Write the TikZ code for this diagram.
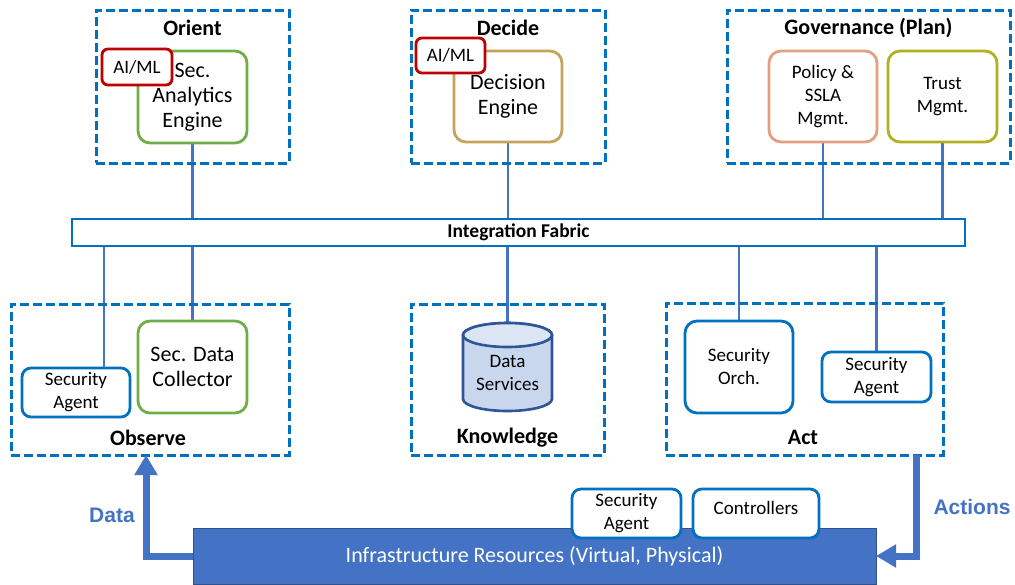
\documentclass[tikz,border=0pt]{standalone}
\usepackage{fontspec}
\setmainfont{Carlito}
\newfontfamily\arialfont{Liberation Sans}
\usetikzlibrary{arrows.meta,backgrounds}

\definecolor{dashblue}{RGB}{0,112,192}
\definecolor{linkblue}{RGB}{68,114,196}
\definecolor{okgreen}{RGB}{112,173,71}
\definecolor{engtan}{RGB}{196,164,92}
\definecolor{salmonline}{RGB}{226,160,126}
\definecolor{oliveline}{RGB}{178,176,30}
\definecolor{aired}{RGB}{192,0,0}
\definecolor{cylfill}{RGB}{201,215,238}
\definecolor{cyltop}{RGB}{220,229,244}
\definecolor{cylline}{RGB}{47,85,151}
\definecolor{infraline}{RGB}{47,82,143}

\newcommand\fsbig{\fontsize{22}{25}\selectfont}
\newcommand\fssmall{\fontsize{19}{23}\selectfont}
\newcommand\fsfab{\fontsize{19.5}{22}\selectfont}

\begin{document}
\begin{tikzpicture}[x=1pt,y=-1pt,
  group/.style={draw=dashblue, line width=3pt, dash pattern=on 9pt off 4pt,
    inner sep=0pt, outer sep=0pt},
  title/.style={font=\fsbig\bfseries, inner sep=0pt},
  box/.style={rounded corners=12pt, line width=2.8pt, fill=white, align=center,
    inner sep=0pt, outer sep=0pt, font=\fsbig},
  smallbox/.style={box, draw=dashblue, rounded corners=9pt, font=\fssmall},
  aibox/.style={draw=aired, rounded corners=6pt, line width=2.8pt, fill=white,
    inner sep=0pt, outer sep=0pt, font=\fssmall},
  link/.style={draw=linkblue, line width=2.5pt},
  bigarrow/.style={draw=linkblue, line width=7pt,
    -{Triangle[width=22pt,length=20pt]}},
  arrowlabel/.style={font=\arialfont\bfseries\fontsize{21}{25}\selectfont,
    text=linkblue, inner sep=0pt}
]
\useasboundingbox (0,0) rectangle (1015,584);

% ---------- Orient ----------
\node[group, minimum width=193pt, minimum height=153pt] (orient) at (192.5,86.5) {};
\node[title] (orientT) at (192.5,28) {Orient};
\node[box, draw=okgreen, minimum width=109pt, minimum height=92pt] (sae) at (192.5,97) {Sec.\\Analytics\\Engine};
\node[aibox, minimum width=70pt, minimum height=36pt] (ai1) at (137,67) {AI/ML};

% ---------- Decide ----------
\node[group, minimum width=194pt, minimum height=153pt] (decide) at (508,86.5) {};
\node[title] (decideT) at (508,28) {Decide};
\node[box, draw=engtan, minimum width=108pt, minimum height=91pt] (de) at (508,96.5) {Decision\\Engine};
\node[aibox, minimum width=69pt, minimum height=35pt] (ai2) at (450.5,55.5) {AI/ML};

% ---------- Governance ----------
\node[group, minimum width=283pt, minimum height=153pt] (gov) at (868.5,86.5) {};
\node[title] (govT) at (868.5,28) {Governance (Plan)};
\node[box, draw=salmonline, font=\fssmall, minimum width=108pt, minimum height=91pt] (pol) at (823,96.5) {Policy \&\\SSLA\\Mgmt.};
\node[box, draw=oliveline, font=\fssmall, minimum width=109pt, minimum height=91pt] (trust) at (942.5,96.5) {Trust\\Mgmt.};

% ---------- Integration fabric ----------
\node[draw=dashblue, line width=2.6pt, fill=white, minimum width=893pt, minimum height=27pt,
  inner sep=0pt, outer sep=0pt, font=\fsfab\bfseries] (fab) at (518.5,232.5) {Integration Fabric};

% ---------- Observe ----------
\node[group, minimum width=278pt, minimum height=151pt] (obs) at (150,379.5) {};
\node[title] (obsT) at (148,438) {Observe};
\node[smallbox, minimum width=108pt, minimum height=49pt] (osa) at (76,392.5) {Security\\Agent};
\node[box, draw=okgreen, minimum width=109pt, minimum height=92pt] (sdc) at (192.5,367) {Sec. Data\\Collector};

% ---------- Knowledge ----------
\node[group, minimum width=193pt, minimum height=151pt] (know) at (507.5,379.5) {};
\node[title] (knowT) at (507.5,438) {Knowledge};
\node[minimum width=89pt, minimum height=88pt, inner sep=0pt, outer sep=0pt] (ds) at (507.5,367) {};
\filldraw[draw=cylline, fill=cylfill, line width=2.6pt]
  (463,335) -- (463,399) arc[start angle=180, end angle=360, x radius=44.5pt, y radius=12pt]
  -- (552,335) arc[start angle=0, end angle=180, x radius=44.5pt, y radius=12pt] -- cycle;
\filldraw[draw=cylline, fill=cyltop, line width=2.6pt] (507.5,335) ellipse[x radius=44.5pt, y radius=12pt];
\node[font=\fssmall, align=center, inner sep=0pt] (dsT) at (507.5,372.5) {Data\\Services};

% ---------- Act ----------
\node[group, minimum width=277pt, minimum height=152pt] (act) at (804.5,379) {};
\node[title] (actT) at (803,437) {Act};
\node[box, draw=dashblue, font=\fssmall, minimum width=108pt, minimum height=92pt] (orch) at (739,367) {Security\\Orch.};
\node[smallbox, minimum width=109pt, minimum height=50pt] (asa) at (876.5,377) {Security\\Agent};

% ---------- Infrastructure ----------
\node[fill=linkblue, draw=infraline, line width=1pt, minimum width=683pt, minimum height=56pt,
  inner sep=0pt, outer sep=0pt, text=white, font=\fsbig] (infra) at (534.5,556)
  {Infrastructure Resources (Virtual, Physical)};
\node[smallbox, minimum width=109pt, minimum height=49pt] (isa) at (626.5,513.5) {Security\\Agent};
\node[smallbox, minimum width=126pt, minimum height=49pt] (ctrl) at (756,513.5) {};
\node[font=\fssmall, inner sep=0pt] (ctrlT) at (756,508) {Controllers};

% ---------- Connectors to the fabric ----------
\begin{scope}[on background layer]
\draw[link] (sae.south) -- (sae.south |- fab.north);
\draw[link] (de.south) -- (de.south |- fab.north);
\draw[link] (pol.south) -- (pol.south |- fab.north);
\draw[link] (trust.south) -- (trust.south |- fab.north);
\draw[link] ([xshift=28pt]osa.north) -- ([xshift=28pt]osa.north |- fab.south);
\draw[link] (sdc.north) -- (sdc.north |- fab.south);
\draw[link] (ds.north) -- (ds.north |- fab.south);
\draw[link] (orch.north) -- (orch.north |- fab.south);
\draw[link] (asa.north) -- (asa.north |- fab.south);
\end{scope}

% ---------- Data and action flows ----------
\draw[bigarrow] (infra.west) -| ([xshift=-4pt]obs.south);
\draw[bigarrow] ([xshift=-27pt]act.south east) |- (infra.east);
\node[arrowlabel] (dataL) at (112,515) {Data};
\node[arrowlabel] (actL) at (972,507) {Actions};
\end{tikzpicture}
\end{document}
